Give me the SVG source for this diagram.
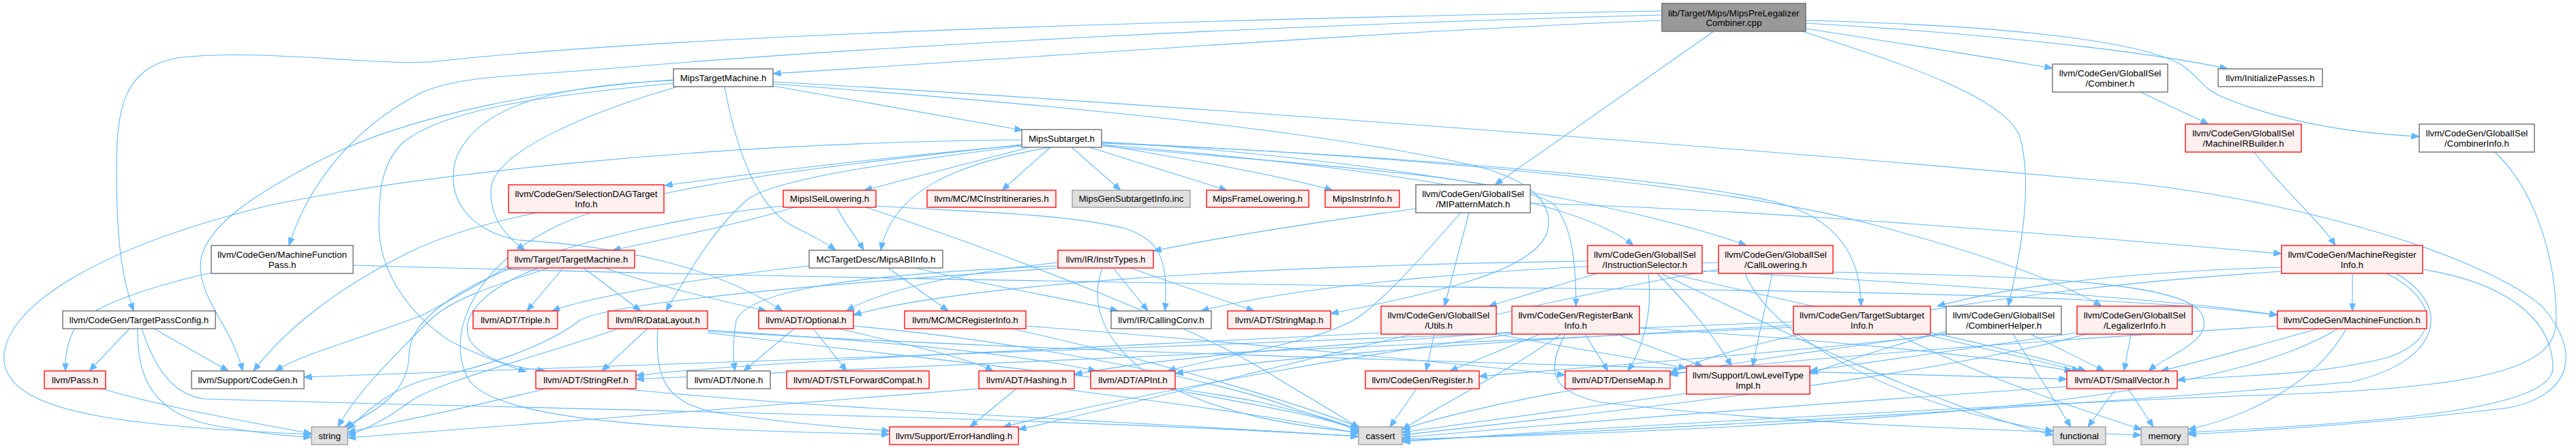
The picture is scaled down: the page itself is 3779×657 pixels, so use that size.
<svg xmlns="http://www.w3.org/2000/svg" width="3779" height="657" viewBox="0 0 3779 657">
<defs>
<marker id="ah" markerWidth="12" markerHeight="10" refX="11.5" refY="5" orient="auto" markerUnits="userSpaceOnUse"><path d="M0,0.5 L11.5,5 L0,9.5 z" fill="#63b8ff" stroke="#63b8ff" stroke-width="1"/></marker>
</defs>
<style>
.e path{fill:none;stroke:#63b8ff;stroke-width:1.1;marker-end:url(#ah)}
rect{stroke-width:1.3}
.m rect{fill:#999999;stroke:#666666}
.w rect{fill:#ffffff;stroke:#666666}
.r rect{fill:#fff0f0;stroke:#ff0000}
.g rect{fill:#e0e0e0;stroke:#999999}
text{font-family:"Liberation Sans",Arial,Helvetica,sans-serif;font-size:13.33px;text-anchor:middle;fill:#000000}
</style>
<rect x="0" y="0" width="3779" height="657" fill="#ffffff" stroke="none"/>
<g id="edges" class="e">
<path d="M2438,30 C2100,42 1500,85 1134,108"/>
<path d="M2438,22 C1900,36 1300,66 900,100 C760,112 680,110 620,135 C530,180 455,260 424,360"/>
<path d="M2438,16 C1800,28 1000,50 640,90 C560,98 380,70 260,85 C180,100 171,160 171,250 C171,360 180,410 196,456"/>
<path d="M2514,46 L2193,271"/>
<path d="M2649,42 C2800,65 2920,85 3011,100"/>
<path d="M2649,34 C2900,48 3150,75 3268,101"/>
<path d="M2649,30 C2900,36 3130,55 3200,95 C3230,115 3230,130 3260,142 C3330,172 3430,195 3549,200"/>
<path d="M2644,46 C2780,90 2940,140 2963,200 C2980,260 2970,350 2946,449"/>
<path d="M1134,126 L1500,191"/>
<path d="M1063,127 C1080,220 1110,300 1160,330 C1190,345 1210,355 1226,367"/>
<path d="M994,127 C880,160 720,220 720,280 C720,320 740,345 770,367"/>
<path d="M988,117 C800,130 600,170 480,230 C360,290 294,340 294,390 C294,440 340,480 356,544"/>
<path d="M988,122 C800,140 650,160 590,210 C560,240 556,280 556,330 C556,400 600,460 660,500 C700,520 740,535 772,545"/>
<path d="M989,118 C800,125 700,160 670,230 C650,290 690,340 760,352 C900,360 1050,390 1148,456"/>
<path d="M1134,123 C1500,150 1900,185 2150,240 C2250,262 2280,300 2270,340 C2250,400 2100,430 1952,460"/>
<path d="M1134,120 C1500,140 2500,210 3140,270 C3400,300 3650,380 3730,450 C3790,520 3770,580 3680,598 C3500,620 3350,630 3210,637"/>
<path d="M1541,216 C1400,240 1310,280 1292,367"/>
<path d="M1598,216 L1800,279"/>
<path d="M1510,216 L1268,279"/>
<path d="M1616,212 C1750,235 1880,258 1955,279"/>
<path d="M1499,213 C1300,230 1100,255 975,272"/>
<path d="M1616,210 C2000,225 2450,260 2600,295 C2700,320 2730,380 2730,449"/>
<path d="M1616,208 C2000,230 2400,300 2562,360"/>
<path d="M1616,209 C2100,230 2550,275 2750,330 C2900,370 3020,410 3083,449"/>
<path d="M1616,214 C1900,240 2230,260 2280,300 C2305,330 2312,380 2312,449"/>
<path d="M1616,212 C1950,240 2300,280 2396,360"/>
<path d="M1499,214 C1300,240 1150,260 1100,290 C1050,330 1010,400 977,456"/>
<path d="M1541,216 L1470,279"/>
<path d="M1499,212 C1250,240 950,270 820,330 C690,390 650,500 690,560 C740,620 1000,630 1305,637"/>
<path d="M1499,205 C1000,210 600,260 400,300 C150,360 0,450 6,530 C15,610 200,625 457,637"/>
<path d="M1572,216 L1644,279"/>
<path d="M1228,304 C1240,330 1255,345 1267,367"/>
<path d="M1285,302 C1400,310 1560,312 1650,335 C1700,350 1715,380 1709,456"/>
<path d="M1165,304 C1100,325 1000,345 899,367"/>
<path d="M1149,302 C880,330 600,420 600,520 C600,570 560,600 505,626"/>
<path d="M1270,304 C1500,380 1750,480 1850,540 C1930,590 1970,610 1993,628"/>
<path d="M787,312 C700,330 640,350 600,370 C500,420 420,480 372,544"/>
<path d="M826,393 L773,456"/>
<path d="M856,393 L940,456"/>
<path d="M887,393 C950,415 1050,440 1124,456"/>
<path d="M789,393 C720,420 670,460 690,500 C710,530 760,540 800,544"/>
<path d="M745,390 C700,420 660,440 620,462 C520,500 440,520 404,544"/>
<path d="M805,393 C720,420 660,440 630,470 C570,530 520,580 496,626"/>
<path d="M1187,390 C1000,410 850,440 810,456"/>
<path d="M1303,393 L1391,456"/>
<path d="M1344,393 C1450,420 1580,440 1640,456"/>
<path d="M950,482 L883,544"/>
<path d="M907,482 C800,520 640,560 600,590 C560,620 530,632 510,638"/>
<path d="M965,482 C960,560 980,590 1050,605 C1150,620 1250,628 1305,632"/>
<path d="M1038,484 C1200,495 1450,510 1608,544"/>
<path d="M1038,486 C1600,520 2500,540 3032,556"/>
<path d="M1038,488 C1300,520 1700,560 1850,590 C1930,610 1970,620 1993,633"/>
<path d="M1165,482 L1091,544"/>
<path d="M1193,482 L1242,544"/>
<path d="M1230,482 C1330,505 1420,525 1457,544"/>
<path d="M1252,478 C1500,500 1800,560 1900,600 C1950,615 1975,622 1993,630"/>
<path d="M801,570 C700,595 600,615 510,634"/>
<path d="M912,570 C1200,600 1700,620 1993,640"/>
<path d="M1491,570 L1423,626"/>
<path d="M1436,570 C1200,590 800,620 510,642"/>
<path d="M1554,570 C1750,595 1900,615 1993,636"/>
<path d="M1713,570 C1850,595 1950,612 1993,632"/>
<path d="M1633,393 L1684,456"/>
<path d="M1658,393 L1840,456"/>
<path d="M1617,393 C1600,440 1610,500 1700,560 C1800,610 1900,625 1993,634"/>
<path d="M1552,385 C1450,395 1300,420 1242,456"/>
<path d="M1552,390 C1300,400 1100,420 1080,470 C1075,500 1075,520 1078,544"/>
<path d="M1554,393 C1300,410 900,440 850,470 C800,510 700,540 640,553 C580,565 540,600 510,630"/>
<path d="M1505,478 C1800,500 2100,530 2296,550"/>
<path d="M1484,482 C1700,530 1900,590 1995,627"/>
<path d="M2077,306 C1900,330 1780,350 1692,368"/>
<path d="M2155,312 L2119,449"/>
<path d="M2143,312 C2100,360 2050,420 2000,460 C1950,500 1800,520 1713,544"/>
<path d="M2245,298 C2500,305 2800,325 3347,372"/>
<path d="M2104,490 L2092,544"/>
<path d="M2026,488 C1600,510 1100,530 933,551"/>
<path d="M2195,490 C2300,510 2400,525 2474,540"/>
<path d="M2259,490 L2127,544"/>
<path d="M2325,490 L2359,544"/>
<path d="M2372,490 L2498,537"/>
<path d="M2290,490 C2220,540 2120,590 2057,630"/>
<path d="M2296,490 C2270,540 2270,575 2350,590 C2600,620 2900,630 3141,638"/>
<path d="M2405,481 C2700,500 2900,520 3040,544"/>
<path d="M2218,487 C1900,510 1700,525 1576,549"/>
<path d="M2218,490 C2000,520 1700,570 1472,626"/>
<path d="M2343,401 C2280,420 2230,435 2184,449"/>
<path d="M2418,401 C2425,460 2410,510 2388,544"/>
<path d="M2329,383 C1800,390 1400,420 1252,462"/>
<path d="M2449,401 C2700,460 2950,510 3060,544"/>
<path d="M2497,397 C2900,420 3200,440 3341,462"/>
<path d="M2431,401 C2480,450 2520,500 2540,537"/>
<path d="M2437,401 C2600,480 2850,600 3012,638"/>
<path d="M2600,401 L2571,537"/>
<path d="M2521,385 C2200,390 1900,420 1762,456"/>
<path d="M2689,399 C2950,405 3200,410 3230,460 C3250,500 3180,520 3152,544"/>
<path d="M2560,401 C2600,500 2800,600 3012,632"/>
<path d="M2521,395 C2200,450 1800,560 1494,630"/>
<path d="M2822,490 L3051,544"/>
<path d="M2783,490 C2900,550 3050,600 3142,630"/>
<path d="M2631,472 C2000,500 800,540 446,553"/>
<path d="M2631,477 C2200,500 1900,520 1724,548"/>
<path d="M2631,480 C2000,510 1300,535 933,556"/>
<path d="M2953,490 L3038,626"/>
<path d="M2979,490 L3087,544"/>
<path d="M2855,486 C2780,505 2720,525 2655,548"/>
<path d="M2855,489 C2700,510 2550,530 2450,550"/>
<path d="M2855,490 C2600,520 2300,540 2170,552"/>
<path d="M3126,490 L3116,544"/>
<path d="M3047,488 C2900,510 2750,530 2655,544"/>
<path d="M3061,490 C2800,560 2300,610 2057,638"/>
<path d="M3104,570 L3063,626"/>
<path d="M3122,570 L3159,626"/>
<path d="M3032,567 C2700,590 2300,620 2057,642"/>
<path d="M2319,570 C2200,590 2100,615 2057,630"/>
<path d="M2078,570 L2039,626"/>
<path d="M2474,577 C2300,600 2150,620 2057,634"/>
<path d="M3401,482 C3300,510 3230,530 3170,544"/>
<path d="M3442,482 C3400,560 3300,610 3210,630"/>
<path d="M3430,482 C3300,560 3000,620 2057,644"/>
<path d="M3341,478 C3000,500 2700,520 2450,548"/>
<path d="M3451,401 L3451,456"/>
<path d="M3554,395 C3680,415 3745,470 3745,540 C3745,600 3500,620 3210,634"/>
<path d="M3501,401 C3580,440 3580,500 3500,525 C3400,550 3300,550 3194,557"/>
<path d="M3347,392 C3100,400 2950,420 2842,449"/>
<path d="M3515,401 C3600,450 3580,530 3450,560 C3000,600 2400,630 2057,646"/>
<path d="M3347,398 C3000,420 2600,480 2450,547"/>
<path d="M310,400 C220,420 130,450 110,480 C95,510 96,530 96,544"/>
<path d="M518,389 C900,400 1500,415 2500,425 C3000,432 3200,445 3341,462"/>
<path d="M149,570 C250,600 400,625 457,636"/>
<path d="M190,482 L131,544"/>
<path d="M226,482 L335,544"/>
<path d="M202,482 C200,560 230,610 320,625 C380,635 420,640 457,641"/>
<path d="M208,482 C230,550 260,580 300,585 C800,600 1500,610 1993,640"/>
<path d="M3140,135 L3240,182"/>
<path d="M3307,223 C3350,280 3400,320 3426,360"/>
<path d="M3660,223 C3720,280 3750,380 3750,470 C3750,540 3650,570 3300,580 C2800,600 2300,630 2057,648"/>
</g>
<g id="n1" class="m"><rect x="2438" y="5" width="211" height="41"/><text x="2543.5" y="23.5">lib/Target/Mips/MipsPreLegalizer</text><text x="2543.5" y="38">Combiner.cpp</text></g>
<g id="n2" class="w"><rect x="988" y="101" width="146" height="26"/><text x="1061" y="118.5">MipsTargetMachine.h</text></g>
<g id="n3" class="w"><rect x="1499" y="190" width="117" height="26"/><text x="1557.5" y="207.5">MipsSubtarget.h</text></g>
<g id="n4" class="w"><rect x="3011" y="94" width="169" height="41"/><text x="3095.5" y="112">llvm/CodeGen/GlobalISel</text><text x="3095.5" y="127">/Combiner.h</text></g>
<g id="n5" class="w"><rect x="3254" y="101" width="153" height="26"/><text x="3330.5" y="118.5">llvm/InitializePasses.h</text></g>
<g id="n6" class="r"><rect x="3206" y="182" width="170" height="41"/><text x="3291" y="200">llvm/CodeGen/GlobalISel</text><text x="3291" y="215">/MachineIRBuilder.h</text></g>
<g id="n7" class="w"><rect x="3549" y="182" width="169" height="41"/><text x="3633.5" y="200">llvm/CodeGen/GlobalISel</text><text x="3633.5" y="215">/CombinerInfo.h</text></g>
<g id="n8" class="r"><rect x="746" y="271" width="228" height="41"/><text x="860" y="289">llvm/CodeGen/SelectionDAGTarget</text><text x="860" y="304">Info.h</text></g>
<g id="n9" class="r"><rect x="1149" y="279" width="136" height="25"/><text x="1217" y="296">MipsISelLowering.h</text></g>
<g id="n10" class="r"><rect x="1360" y="279" width="189" height="25"/><text x="1454.5" y="296">llvm/MC/MCInstrItineraries.h</text></g>
<g id="n11" class="g"><rect x="1573" y="279" width="173" height="25"/><text x="1659.5" y="296">MipsGenSubtargetInfo.inc</text></g>
<g id="n12" class="r"><rect x="1770" y="279" width="150" height="25"/><text x="1845" y="296">MipsFrameLowering.h</text></g>
<g id="n13" class="r"><rect x="1944" y="279" width="109" height="25"/><text x="1998.5" y="296">MipsInstrInfo.h</text></g>
<g id="n14" class="w"><rect x="2077" y="271" width="168" height="41"/><text x="2161" y="289">llvm/CodeGen/GlobalISel</text><text x="2161" y="304">/MIPatternMatch.h</text></g>
<g id="n15" class="w"><rect x="310" y="360" width="208" height="41"/><text x="414" y="378">llvm/CodeGen/MachineFunction</text><text x="414" y="393">Pass.h</text></g>
<g id="n16" class="w"><rect x="92" y="456" width="224" height="26"/><text x="204" y="473.5">llvm/CodeGen/TargetPassConfig.h</text></g>
<g id="n17" class="r"><rect x="65" y="544" width="90" height="26"/><text x="110" y="561.5">llvm/Pass.h</text></g>
<g id="n18" class="w"><rect x="281" y="544" width="165" height="26"/><text x="363.5" y="561.5">llvm/Support/CodeGen.h</text></g>
<g id="n19" class="g"><rect x="457" y="626" width="53" height="26"/><text x="483.5" y="643.5">string</text></g>
<g id="n20" class="r"><rect x="745" y="367" width="186" height="26"/><text x="838" y="384.5">llvm/Target/TargetMachine.h</text></g>
<g id="n21" class="w"><rect x="1187" y="367" width="196" height="26"/><text x="1285" y="384.5">MCTargetDesc/MipsABIInfo.h</text></g>
<g id="n22" class="r"><rect x="694" y="456" width="124" height="26"/><text x="756" y="473.5">llvm/ADT/Triple.h</text></g>
<g id="n23" class="r"><rect x="892" y="456" width="146" height="26"/><text x="965" y="473.5">llvm/IR/DataLayout.h</text></g>
<g id="n24" class="r"><rect x="1113" y="456" width="139" height="26"/><text x="1182.5" y="473.5">llvm/ADT/Optional.h</text></g>
<g id="n25" class="r"><rect x="786" y="544" width="147" height="26"/><text x="859.5" y="561.5">llvm/ADT/StringRef.h</text></g>
<g id="n26" class="w"><rect x="1008" y="544" width="122" height="26"/><text x="1069" y="561.5">llvm/ADT/None.h</text></g>
<g id="n27" class="r"><rect x="1154" y="544" width="209" height="26"/><text x="1258.5" y="561.5">llvm/ADT/STLForwardCompat.h</text></g>
<g id="n28" class="r"><rect x="1552" y="367" width="140" height="26"/><text x="1622" y="384.5">llvm/IR/InstrTypes.h</text></g>
<g id="n29" class="r"><rect x="1327" y="456" width="178" height="26"/><text x="1416" y="473.5">llvm/MC/MCRegisterInfo.h</text></g>
<g id="n30" class="w"><rect x="1630" y="456" width="147" height="26"/><text x="1703.5" y="473.5">llvm/IR/CallingConv.h</text></g>
<g id="n31" class="r"><rect x="1801" y="456" width="151" height="26"/><text x="1876.5" y="473.5">llvm/ADT/StringMap.h</text></g>
<g id="n32" class="r"><rect x="1436" y="544" width="140" height="26"/><text x="1506" y="561.5">llvm/ADT/Hashing.h</text></g>
<g id="n33" class="r"><rect x="1600" y="544" width="124" height="26"/><text x="1662" y="561.5">llvm/ADT/APInt.h</text></g>
<g id="n34" class="r"><rect x="1305" y="626" width="189" height="26"/><text x="1399.5" y="643.5">llvm/Support/ErrorHandling.h</text></g>
<g id="n35" class="r"><rect x="2329" y="360" width="168" height="41"/><text x="2413" y="378">llvm/CodeGen/GlobalISel</text><text x="2413" y="393">/InstructionSelector.h</text></g>
<g id="n36" class="r"><rect x="2521" y="360" width="168" height="41"/><text x="2605" y="378">llvm/CodeGen/GlobalISel</text><text x="2605" y="393">/CallLowering.h</text></g>
<g id="n37" class="r"><rect x="2026" y="449" width="169" height="41"/><text x="2110.5" y="467">llvm/CodeGen/GlobalISel</text><text x="2110.5" y="482">/Utils.h</text></g>
<g id="n38" class="r"><rect x="2218" y="449" width="187" height="41"/><text x="2311.5" y="467">llvm/CodeGen/RegisterBank</text><text x="2311.5" y="482">Info.h</text></g>
<g id="n39" class="r"><rect x="2003" y="544" width="167" height="26"/><text x="2086.5" y="561.5">llvm/CodeGen/Register.h</text></g>
<g id="n40" class="r"><rect x="2296" y="544" width="154" height="26"/><text x="2373" y="561.5">llvm/ADT/DenseMap.h</text></g>
<g id="n41" class="r"><rect x="2474" y="537" width="181" height="41"/><text x="2564.5" y="555">llvm/Support/LowLevelType</text><text x="2564.5" y="570">Impl.h</text></g>
<g id="n42" class="g"><rect x="1993" y="626" width="64" height="26"/><text x="2025" y="643.5">cassert</text></g>
<g id="n43" class="r"><rect x="2631" y="449" width="201" height="41"/><text x="2731.5" y="467">llvm/CodeGen/TargetSubtarget</text><text x="2731.5" y="482">Info.h</text></g>
<g id="n44" class="w"><rect x="2855" y="449" width="169" height="41"/><text x="2939.5" y="467">llvm/CodeGen/GlobalISel</text><text x="2939.5" y="482">/CombinerHelper.h</text></g>
<g id="n45" class="r"><rect x="3047" y="449" width="169" height="41"/><text x="3131.5" y="467">llvm/CodeGen/GlobalISel</text><text x="3131.5" y="482">/LegalizerInfo.h</text></g>
<g id="n46" class="r"><rect x="3032" y="544" width="162" height="26"/><text x="3113" y="561.5">llvm/ADT/SmallVector.h</text></g>
<g id="n47" class="g"><rect x="3012" y="626" width="77" height="26"/><text x="3050.5" y="643.5">functional</text></g>
<g id="n48" class="g"><rect x="3141" y="626" width="69" height="26"/><text x="3175.5" y="643.5">memory</text></g>
<g id="n49" class="r"><rect x="3347" y="360" width="207" height="41"/><text x="3450.5" y="378">llvm/CodeGen/MachineRegister</text><text x="3450.5" y="393">Info.h</text></g>
<g id="n50" class="r"><rect x="3341" y="456" width="219" height="26"/><text x="3450.5" y="473.5">llvm/CodeGen/MachineFunction.h</text></g>
</svg>
